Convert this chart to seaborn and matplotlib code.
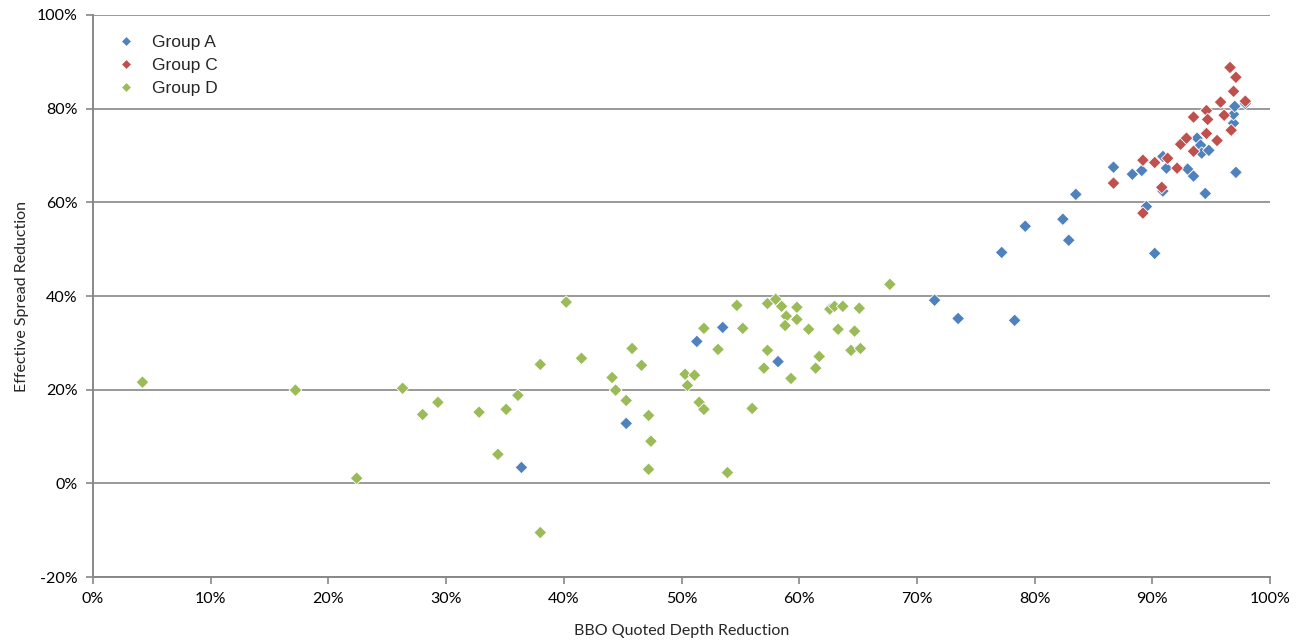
import seaborn as sns
import matplotlib.pyplot as plt
import pandas as pd
from matplotlib.ticker import PercentFormatter, MultipleLocator

# Group A (blue)
a_x = [36.4, 45.3, 51.3, 53.5, 58.2, 71.5, 73.5, 77.2, 78.3, 79.2, 82.4, 82.9, 83.5,
       86.7, 88.3, 89.1, 89.5, 90.2, 90.9, 90.9, 91.2, 93.0, 93.5, 93.8, 94.1, 94.2,
       94.8, 94.5, 97.1, 96.9, 96.9, 97.0, 97.9]
a_y = [3.4, 12.8, 30.3, 33.3, 26.0, 39.1, 35.2, 49.3, 34.8, 54.9, 56.4, 51.9, 61.7,
       67.5, 66.0, 66.8, 59.1, 49.1, 62.4, 69.8, 67.3, 67.1, 65.6, 73.7, 72.2, 70.5,
       71.1, 61.9, 66.4, 76.9, 78.8, 80.5, 81.1]

# Group C (red)
c_x = [86.7, 89.2, 90.2, 90.8, 89.2, 91.3, 92.1, 92.4, 92.9, 93.5, 93.5, 94.6, 94.6,
       94.7, 95.5, 95.8, 96.1, 96.7, 96.6, 97.1, 96.9, 97.9]
c_y = [64.1, 69.0, 68.5, 63.2, 57.7, 69.4, 67.3, 72.4, 73.7, 70.9, 78.2, 74.7, 79.6,
       77.7, 73.2, 81.4, 78.6, 75.4, 88.8, 86.7, 83.7, 81.6]

# Group D (green)
d_x = [4.2, 17.2, 22.4, 26.3, 28.0, 29.3, 32.8, 34.4, 35.1, 36.1, 38.0, 38.0, 40.2,
       41.5, 44.1, 44.4, 45.3, 45.8, 46.6, 47.2, 47.2, 47.4, 50.3, 50.5, 51.1, 51.5,
       51.9, 51.9, 53.1, 53.9, 54.7, 55.2, 56.0, 57.0, 57.3, 57.3, 58.0, 58.5, 58.9,
       58.8, 59.3, 59.8, 59.8, 60.8, 61.4, 61.7, 62.6, 63.0, 63.3, 63.7, 64.4, 64.7,
       65.1, 65.2, 67.7]
d_y = [21.6, 19.9, 1.1, 20.3, 14.7, 17.3, 15.2, 6.2, 15.8, 18.8, -10.5, 25.4, 38.7,
       26.7, 22.6, 19.9, 17.7, 28.8, 25.2, 14.5, 3.0, 9.0, 23.3, 20.9, 23.1, 17.3,
       15.8, 33.1, 28.6, 2.3, 38.0, 33.1, 16.0, 24.6, 38.4, 28.4, 39.3, 37.8, 35.7,
       33.7, 22.4, 35.0, 37.6, 32.9, 24.6, 27.1, 37.2, 37.8, 32.9, 37.8, 28.4, 32.5,
       37.4, 28.8, 42.5]

groups = ["Group A", "Group C", "Group D"]
colors = ["#4F81BD", "#C0504D", "#9BBB59"]

df = pd.concat([
    pd.DataFrame({"x": a_x, "y": a_y, "group": groups[0]}),
    pd.DataFrame({"x": c_x, "y": c_y, "group": groups[1]}),
    pd.DataFrame({"x": d_x, "y": d_y, "group": groups[2]}),
])

sns.set_style("white")
plt.rcParams['font.family'] = ['Lato', 'DejaVu Sans']
plt.rcParams['axes.unicode_minus'] = False

fig = plt.figure(figsize=(13.03, 6.43), dpi=100)
ax = fig.add_axes([0.0714, 0.1026, 0.9033, 0.8741])

sns.scatterplot(data=df, x="x", y="y", hue="group", hue_order=groups,
                palette=colors, marker="D", s=42, edgecolor="white",
                linewidth=0.6, ax=ax, zorder=3)

ax.set_xlim(0, 100)
ax.set_ylim(-20, 100)
ax.xaxis.set_major_locator(MultipleLocator(10))
ax.yaxis.set_major_locator(MultipleLocator(20))
ax.xaxis.set_major_formatter(PercentFormatter(decimals=0))
ax.yaxis.set_major_formatter(PercentFormatter(decimals=0))

gray = "#888888"
ax.grid(axis="y", color=gray, linewidth=1.2)
ax.set_axisbelow(True)
for side in ["top", "right"]:
    ax.spines[side].set_visible(False)
for side in ["left", "bottom"]:
    ax.spines[side].set_color(gray)
    ax.spines[side].set_linewidth(1.4)

ax.tick_params(axis="both", which="major", direction="out", length=5,
               width=1.2, color=gray, labelsize=11.5, labelcolor="black", pad=6)
ax.tick_params(axis="y", left=True)
ax.tick_params(axis="x", bottom=True)

ax.set_xlabel("BBO Quoted Depth Reduction", fontsize=11.5, labelpad=13)
ax.set_ylabel("Effective Spread Reduction", fontsize=11.5, labelpad=6)

leg = ax.legend(loc="upper left", frameon=False,
                prop={"family": ["Liberation Sans"], "size": 12.5},
                handlelength=2.6, handletextpad=0.2, labelspacing=0.45,
                borderaxespad=0, bbox_to_anchor=(0.003, 0.977))
for h in leg.legend_handles:
    h.set_markersize(5.5)
    h.set_markeredgecolor("white")

fig.savefig("out.png", dpi=100)
